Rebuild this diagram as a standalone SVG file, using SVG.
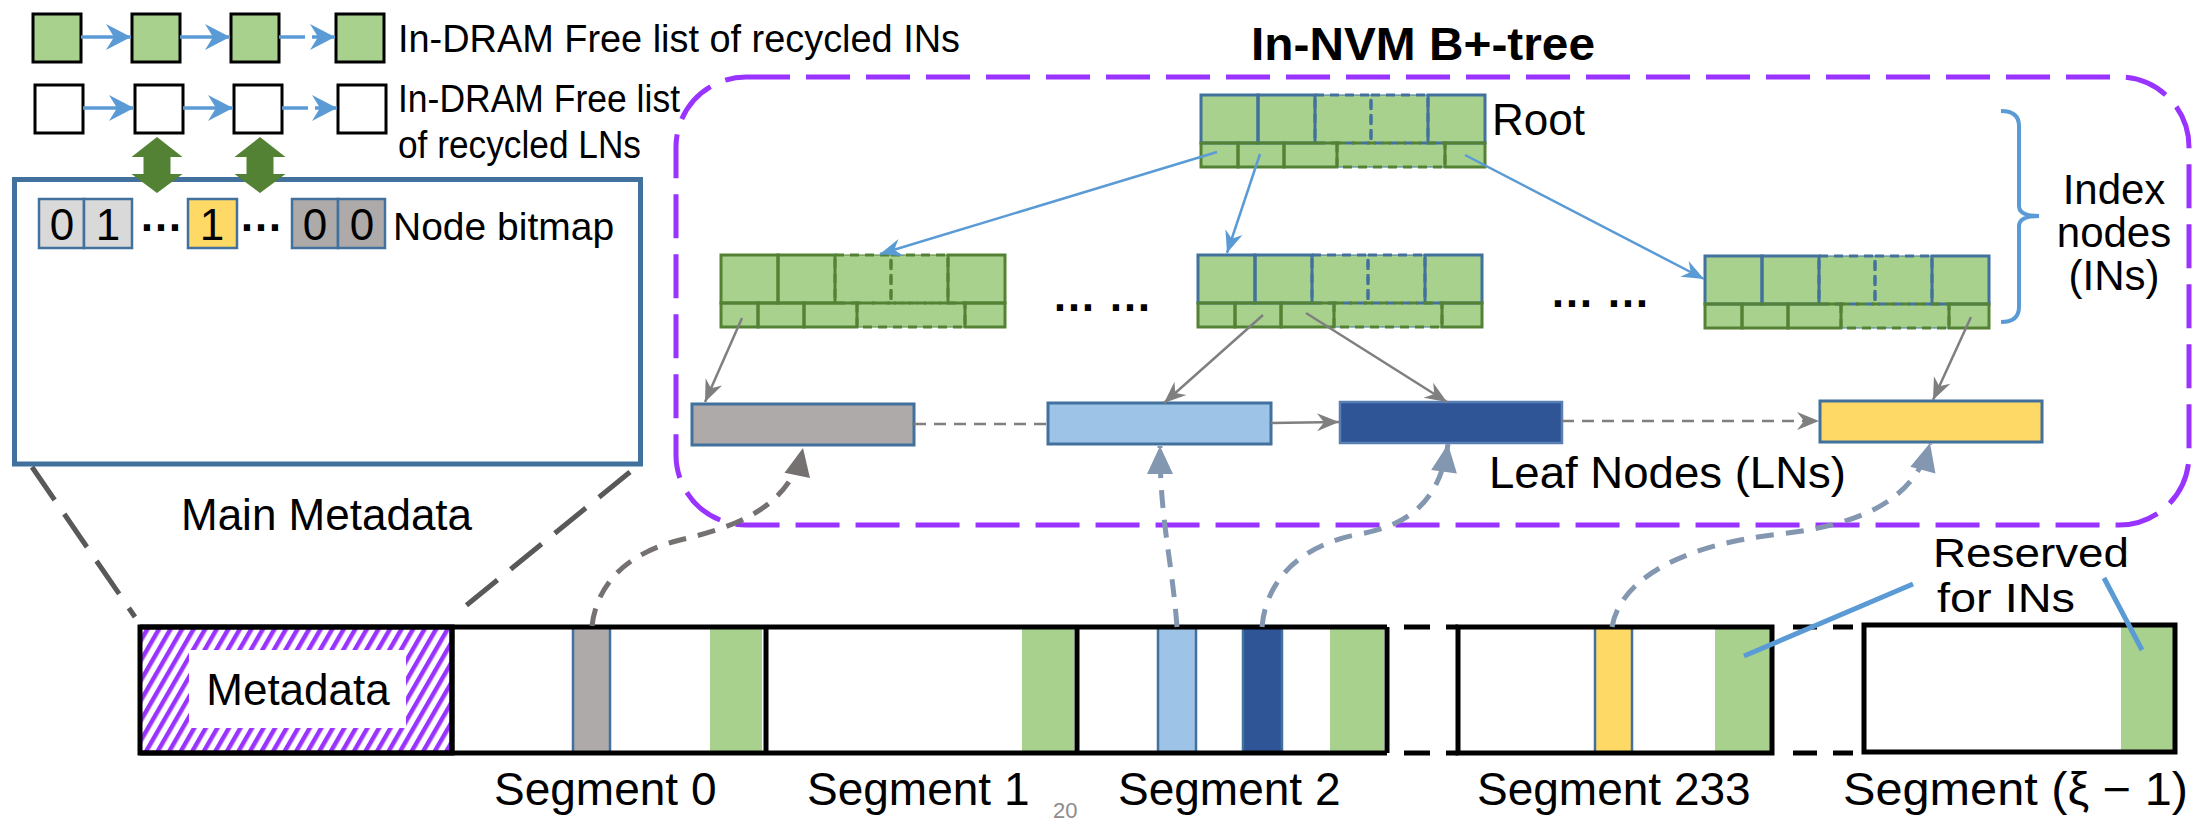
<svg xmlns="http://www.w3.org/2000/svg" width="2196" height="820" viewBox="0 0 2196 820">
<style>
text{font-family:"Liberation Sans",Arial,sans-serif;fill:#000}
.s38{font-size:38px}
.s40{font-size:40px}
.s42{font-size:42px}
.s44{font-size:44px}
.s46{font-size:46px}
.flg{fill:#A9D18E;stroke:#000;stroke-width:3}
.flw{fill:#fff;stroke:#000;stroke-width:3}
.fla{stroke:#5B9BD5;stroke-width:3.5;fill:none;marker-end:url(#ahFL)}
.dbl{fill:#548235}
.bm{stroke:#41719C;stroke-width:2.5}
.lnode{stroke:#41719C;stroke-width:3}
.eb{stroke:#5B9BD5;stroke-width:2.5;fill:none;marker-end:url(#ahBlue)}
.eg{stroke:#7F7F7F;stroke-width:2.5;fill:none}
.ega{marker-end:url(#ahGray)}
.dsh{stroke-dasharray:12 8}
.cg{stroke:#767171;stroke-width:5;fill:none;stroke-dasharray:18 12;marker-end:url(#ahCG)}
.cb{stroke:#8497B0;stroke-width:5;fill:none;stroke-dasharray:18 12;marker-end:url(#ahCB)}
.zoomln{stroke:#595959;stroke-width:5;stroke-dasharray:40 17;fill:none}
.seg{fill:none;stroke:#000;stroke-width:5}
.res{fill:#A9D18E}
.call{stroke:#5B9BD5;stroke-width:5}
</style>
<defs>
<marker id="ahFL" viewBox="-27 -15 30 30" refX="0" refY="0" markerWidth="30" markerHeight="30" orient="auto" markerUnits="userSpaceOnUse"><path d="M0,0 L-25,-13 L-17,0 L-25,13 Z" fill="#5B9BD5"/></marker>
<marker id="ahBlue" viewBox="-24 -12 26 24" refX="0" refY="0" markerWidth="26" markerHeight="24" orient="auto" markerUnits="userSpaceOnUse"><path d="M0,0 L-22,-9 L-15,0 L-22,9 Z" fill="#5B9BD5"/></marker>
<marker id="ahGray" viewBox="-24 -12 26 24" refX="0" refY="0" markerWidth="26" markerHeight="24" orient="auto" markerUnits="userSpaceOnUse"><path d="M0,0 L-22,-9 L-15,0 L-22,9 Z" fill="#7F7F7F"/></marker>
<marker id="ahCG" viewBox="-30 -15 32 30" refX="0" refY="0" markerWidth="32" markerHeight="30" orient="auto" markerUnits="userSpaceOnUse"><path d="M0,0 L-28,-13 L-28,13 Z" fill="#767171"/></marker>
<marker id="ahCB" viewBox="-30 -15 32 30" refX="0" refY="0" markerWidth="32" markerHeight="30" orient="auto" markerUnits="userSpaceOnUse"><path d="M0,0 L-28,-13 L-28,13 Z" fill="#8497B0"/></marker>
<pattern id="hatch" patternUnits="userSpaceOnUse" width="10" height="10" patternTransform="rotate(30)"><rect x="0" y="0" width="4.5" height="10" fill="#9933FF"/></pattern>
<g id="inTpl">
<rect x="0" y="0" width="284" height="72" fill="#A9D18E"/>
<rect x="114" y="0" width="56" height="48" fill="none" stroke-width="3" stroke-dasharray="9 6"/>
<rect x="170" y="0" width="57" height="48" fill="none" stroke-width="3" stroke-dasharray="9 6"/>
<rect x="0" y="0" width="57" height="48" fill="none" stroke-width="3"/>
<rect x="57" y="0" width="57" height="48" fill="none" stroke-width="3"/>
<rect x="227" y="0" width="57" height="48" fill="none" stroke-width="3"/>
<rect x="136" y="48" width="108" height="24" fill="none" stroke="#548235" stroke-width="3" stroke-dasharray="9 6"/>
<rect x="0" y="48" width="37" height="24" fill="none" stroke="#548235" stroke-width="3"/>
<rect x="37" y="48" width="46" height="24" fill="none" stroke="#548235" stroke-width="3"/>
<rect x="83" y="48" width="53" height="24" fill="none" stroke="#548235" stroke-width="3"/>
<rect x="244" y="48" width="40" height="24" fill="none" stroke="#548235" stroke-width="3"/>
</g>
</defs>
<rect x="0" y="0" width="2196" height="820" fill="#fff"/>

<!-- B+ tree container -->
<g id="bptree-container">
<rect x="676" y="77" width="1513" height="448" rx="70" ry="70" fill="none" stroke="#9933FF" stroke-width="5" stroke-dasharray="44 16"/>
<text x="1251" y="60" font-size="46" font-weight="bold" textLength="344" lengthAdjust="spacingAndGlyphs">In-NVM B+-tree</text>
</g>

<!-- Free lists -->
<g id="free-list-ins">
<rect class="flg" x="33" y="14" width="48" height="48"/>
<rect class="flg" x="132" y="14" width="48" height="48"/>
<rect class="flg" x="231" y="14" width="48" height="48"/>
<rect class="flg" x="336" y="14" width="48" height="48"/>
<text class="s38" x="398" y="52" textLength="562" lengthAdjust="spacingAndGlyphs">In-DRAM Free list of recycled INs</text>
</g>
<g id="free-list-lns">
<rect class="flw" x="35" y="85" width="48" height="48"/>
<rect class="flw" x="135" y="85" width="48" height="48"/>
<rect class="flw" x="234" y="85" width="48" height="48"/>
<rect class="flw" x="338" y="85" width="48" height="48"/>
<text class="s38" x="398" y="112" textLength="282" lengthAdjust="spacingAndGlyphs">In-DRAM Free list</text>
<text class="s38" x="398" y="158" textLength="243" lengthAdjust="spacingAndGlyphs">of recycled LNs</text>
</g>

<!-- Main metadata -->
<g id="main-metadata">
<rect x="14.5" y="179.5" width="626" height="284.5" fill="#fff" stroke="#41719C" stroke-width="5"/>
<rect class="bm" x="39" y="199" width="45" height="49" fill="#D9D9D9"/>
<rect class="bm" x="84" y="199" width="48" height="49" fill="#D9D9D9"/>
<rect class="bm" x="188" y="199" width="49" height="49" fill="#FFD966"/>
<rect class="bm" x="292" y="199" width="46" height="49" fill="#AEAAAA"/>
<rect class="bm" x="338" y="199" width="47" height="49" fill="#AEAAAA"/>
<g class="s44" text-anchor="middle">
<text x="62" y="240">0</text>
<text x="108" y="240">1</text>
<text x="161" y="231" font-weight="bold">…</text>
<text x="212" y="240">1</text>
<text x="261" y="231" font-weight="bold">…</text>
<text x="315" y="240">0</text>
<text x="362" y="240">0</text>
</g>
<text x="393" y="240" font-size="39">Node bitmap</text>
<text class="s44" x="181" y="530">Main Metadata</text>
</g>

<!-- Green double arrows -->
<g id="dram-sync-arrows">
<polygon class="dbl" points="157,137 182.5,157 170.5,157 170.5,174 182.5,174 157,193 131.5,174 143.5,174 143.5,157 131.5,157"/>
<polygon class="dbl" points="260,137 285.5,157 273.5,157 273.5,174 285.5,174 260,193 234.5,174 246.5,174 246.5,157 234.5,157"/>
</g>

<!-- Index nodes -->
<g id="in-root"><use href="#inTpl" x="1201" y="95" stroke="#41719C"/><text class="s44" x="1492" y="135">Root</text></g>
<g id="in-left"><use href="#inTpl" x="721" y="255" stroke="#548235"/></g>
<g id="in-mid"><use href="#inTpl" x="1198" y="255" stroke="#41719C"/></g>
<g id="in-right"><use href="#inTpl" x="1705" y="256" stroke="#41719C"/></g>
<g id="in-ellipses" font-weight="bold" text-anchor="middle">
<text class="s44" x="1102" y="311">… …</text>
<text class="s44" x="1600" y="307">… …</text>
</g>
<g id="in-label">
<path d="M2001,111 Q2019,111 2019,126 L2019,206 Q2019,216 2039,216 Q2019,216 2019,226 L2019,307 Q2019,322 2001,322" fill="none" stroke="#5B9BD5" stroke-width="4"/>
<g class="s42" text-anchor="middle">
<text x="2114" y="204">Index</text>
<text x="2114" y="247">nodes</text>
<text x="2114" y="290">(INs)</text>
</g>
</g>

<!-- Leaf nodes -->
<g id="ln-gray"><rect class="lnode" x="692" y="404" width="222" height="41" fill="#AEAAAA"/></g>
<g id="ln-lightblue"><rect class="lnode" x="1048" y="403" width="223" height="41" fill="#9DC3E6"/></g>
<g id="ln-darkblue"><rect x="1340" y="402" width="222" height="41" fill="#2F5597" stroke="#5A7FB5" stroke-width="2.5"/></g>
<g id="ln-yellow"><rect class="lnode" x="1820" y="401" width="222" height="41" fill="#FFD966"/></g>
<text class="s44" x="1489" y="488" textLength="357" lengthAdjust="spacingAndGlyphs">Leaf Nodes (LNs)</text>

<!-- Memory layout -->
<g id="metadata-block">
<rect x="140" y="627" width="312" height="126" fill="url(#hatch)"/>
<rect x="189" y="650" width="217" height="78" fill="#fff"/>
<rect class="seg" x="140" y="627" width="312" height="126"/>
<text class="s44" x="298" y="705" text-anchor="middle">Metadata</text>
</g>
<g id="segment-0">
<rect class="res" x="710" y="627" width="52" height="126"/>
<rect x="573" y="627" width="37" height="126" fill="#AEAAAA" stroke="#41719C" stroke-width="2.5"/>
<text class="s46" x="494" y="805">Segment 0</text>
</g>
<g id="segment-1">
<rect class="res" x="1022" y="627" width="52" height="126"/>
<text class="s46" x="807" y="805">Segment 1</text>
</g>
<g id="segment-2">
<rect x="1158" y="627" width="38" height="126" fill="#9DC3E6" stroke="#41719C" stroke-width="2.5"/>
<rect x="1243" y="627" width="39" height="126" fill="#2F5597" stroke="#41719C" stroke-width="2.5"/>
<rect class="res" x="1330" y="627" width="54" height="126"/>
<text class="s46" x="1118" y="805">Segment 2</text>
</g>
<g id="segment-233">
<rect x="1595" y="627" width="37" height="126" fill="#FFD966" stroke="#41719C" stroke-width="2.5"/>
<rect class="res" x="1715" y="627" width="55" height="126"/>
<rect class="seg" x="1458" y="627" width="314" height="126"/>
<text class="s46" x="1477" y="805">Segment 233</text>
</g>
<g id="segment-last">
<rect class="res" x="2121" y="625" width="52" height="127"/>
<rect class="seg" x="1864" y="625" width="311" height="127"/>
<text class="s46" x="1843" y="805" textLength="345" lengthAdjust="spacingAndGlyphs">Segment (ξ − 1)</text>
</g>
<g id="segment-borders">
<path class="seg" d="M140,627 H1387 M140,753 H1387 M452,627 V753 M766,627 V753 M1077,627 V753 M1387,627 V753"/>
<path class="seg" d="M1404,627 H1430 M1446,627 H1458 M1404,753 H1430 M1446,753 H1458 M1793,627 H1817 M1833,627 H1853 M1793,753 H1817 M1833,753 H1853"/>
</g>
<g id="reserved-label">
<text class="s40" x="1933" y="567" textLength="196" lengthAdjust="spacingAndGlyphs">Reserved</text>
<text class="s40" x="1937" y="612" textLength="138" lengthAdjust="spacingAndGlyphs">for INs</text>
<line class="call" x1="1913" y1="584" x2="1744" y2="656"/>
<line class="call" x1="2104" y1="578" x2="2142" y2="650"/>
</g>
<text x="1053" y="818" font-size="22" style="fill:#8C8C8C">20</text>

<!-- Connectors -->
<g id="connectors">
<path class="fla" d="M81,37 H131"/>
<path class="fla" d="M180,37 H230"/>
<path class="fla" d="M279,37 H335" stroke-dasharray="26 7 40"/>
<path class="fla" d="M83,108 H134"/>
<path class="fla" d="M183,108 H233"/>
<path class="fla" d="M282,108 H337" stroke-dasharray="26 7 40"/>
<path class="zoomln" d="M32,467 L135,617"/>
<path class="zoomln" d="M630,472 L457,613"/>
<path class="eb" d="M1217,152 L880,254"/>
<path class="eb" d="M1260,154 L1227,253"/>
<path class="eb" d="M1465,155 L1704,279"/>
<path class="eg ega" d="M742,318 L705,402"/>
<path class="eg ega" d="M1263,315 L1164,403"/>
<path class="eg ega" d="M1306,313 L1447,402"/>
<path class="eg ega" d="M1971,317 L1933,400"/>
<path class="eg dsh" d="M914,424 H1048"/>
<path class="eg ega" d="M1271,423 L1339,422"/>
<path class="eg ega dsh" d="M1562,421 H1819"/>
<path class="cg" d="M592,626 C596,590 620,555 680,540 C730,528 790,510 803,448"/>
<path class="cb" d="M1177,627 C1172,560 1160,520 1160,446"/>
<path class="cb" d="M1262,627 C1266,580 1300,545 1360,534 C1410,525 1440,500 1448,444"/>
<path class="cb" d="M1612,627 C1620,580 1680,545 1780,534 C1860,525 1915,500 1930,443"/>
</g>
</svg>
